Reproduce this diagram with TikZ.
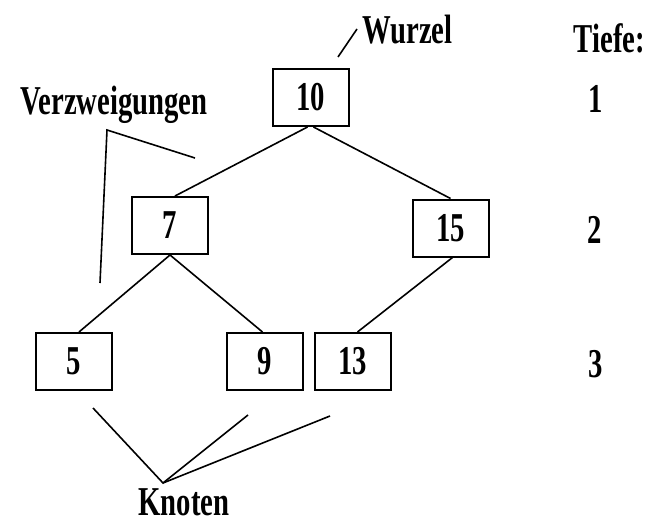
\documentclass[tikz,border=0pt]{standalone}
\usepackage{fontspec}
\setmainfont{Liberation Serif}[UprightFont=* Bold, FakeStretch=0.7]
\begin{document}
\begin{tikzpicture}[x=1pt,y=-1pt,
  every node/.style={font=\fontsize{41}{44}\selectfont, inner sep=0pt},
  box/.style={draw, line width=2pt, minimum width=76pt, minimum height=57pt},
  edge/.style={line width=1.6pt},
  pointer/.style={line width=1.6pt},
  lbl/.style={anchor=base}]
\useasboundingbox (0,0) rectangle (649,527);
% tree nodes
\node[box] (n10) at (310.5,97.5) {10};
\node[box] (n7) at (170,225.5) {7};
\node[box] (n15) at (450.5,228) {15};
\node[box] (n5) at (74,361.5) {5};
\node[box] (n9) at (264.5,361.5) {9};
\node[box] (n13) at (352.5,361.5) {13};
% tree edges
\draw[edge] ([xshift=-3pt]n10.south) -- ([xshift=5pt]n7.north);
\draw[edge] ([xshift=3pt]n10.south) -- (n15.north);
\draw[edge] (n7.south) -- ([xshift=5pt]n5.north);
\draw[edge] (n7.south) -- ([xshift=-2pt]n9.north);
\draw[edge] ([xshift=2pt]n15.south) -- ([xshift=5pt]n13.north);
% labels
\node[lbl] (wurzel) at (407.5,44) {Wurzel};
\node[lbl] (tiefe) at (609.5,53) {Tiefe:};
\node[lbl] (t1) at (596,113) {1};
\node[lbl] (t2) at (595,243) {2};
\node[lbl] (t3) at (596,377) {3};
\node[lbl] (verz) at (114,115) {Verzweigungen};
\node[lbl] (knoten) at (184,515) {Knoten};
% pointers
\coordinate (w1) at (338,57);
\coordinate (w2) at (357,29);
\draw[pointer] (w1) -- (w2);
\coordinate (v1) at (195,158);
\coordinate (v2) at (107,130);
\coordinate (v3) at (100,283);
\draw[pointer] (v1) -- (v2) -- (v3);
\coordinate (k0) at (163,483);
\coordinate (k1) at (93,408);
\coordinate (k2) at (248,415);
\coordinate (k3) at (330,416);
\draw[pointer] (k1) -- (k0) -- (k2);
\draw[pointer] (k0) -- (k3);
\end{tikzpicture}
\end{document}
